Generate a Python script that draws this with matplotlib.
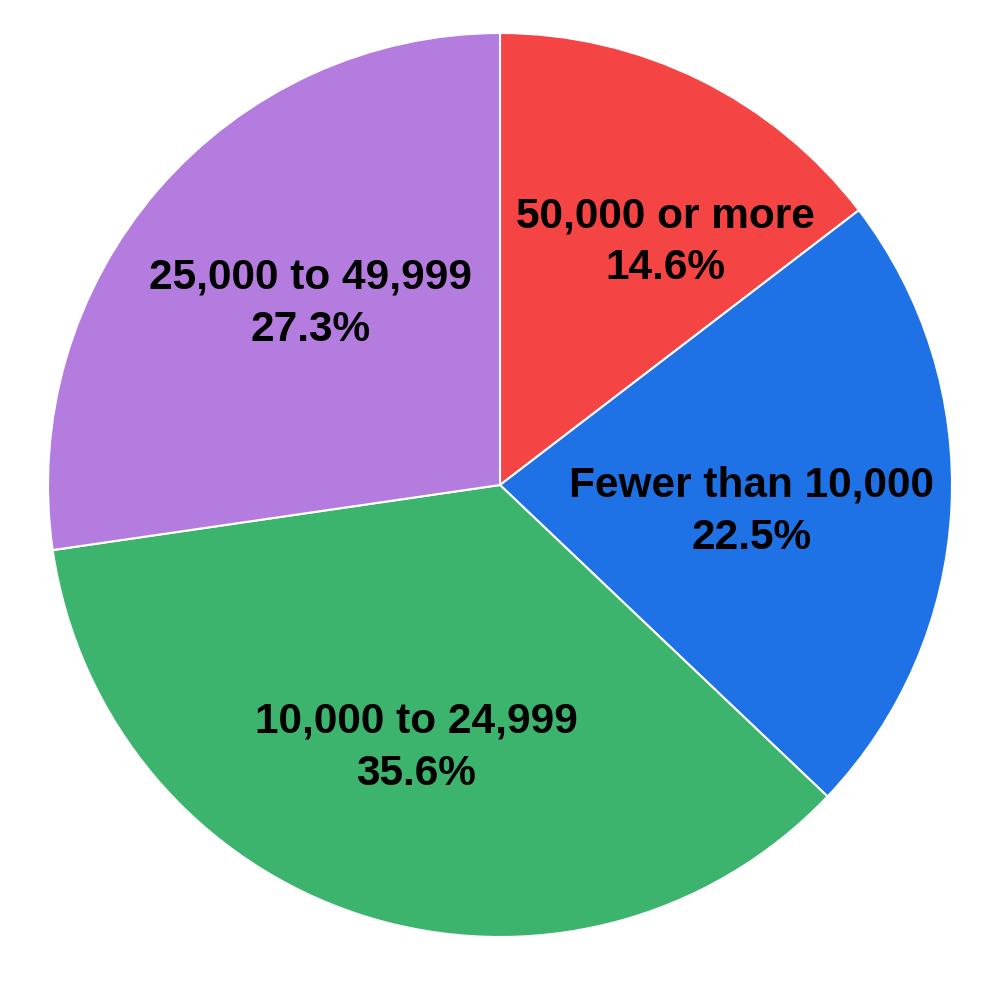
import numpy as np
import matplotlib.pyplot as plt

categories = ['50,000 or more', 'Fewer than 10,000', '10,000 to 24,999', '25,000 to 49,999']
shares = [14.6, 22.5, 35.6, 27.3]
colours = ['#F44444', '#1F72E6', '#3DB46E', '#B47CDF']

# label placement: radius fraction and angle nudge (deg) per wedge
label_r = [0.65, 0.56, 0.61, 0.58]
label_nudge = [-8, -3, 0, -3]

fig = plt.figure(figsize=(10, 9.83), dpi=100)
ax = fig.add_axes([0, 0, 1, 1])

cx, cy, R = 500, 498, 452
wedges, _ = ax.pie(shares, colors=colours, startangle=90, counterclock=False,
                   center=(cx, cy), radius=R, frame=True,
                   wedgeprops=dict(edgecolor='white', linewidth=1.5))
ax.set_xlim(0, 1000)
ax.set_ylim(0, 983)
ax.set_aspect('equal')
ax.axis('off')

for w, cat, val, r, nd in zip(wedges, categories, shares, label_r, label_nudge):
    mid = np.deg2rad((w.theta1 + w.theta2) / 2 + nd)
    x = cx + R * r * np.cos(mid)
    y = cy + R * r * np.sin(mid)
    ax.text(x, y, f'{cat}\n{val}%', ha='center', va='center', fontsize=30.5,
            fontweight='bold', family='Liberation Sans', linespacing=1.4)

fig.savefig('out.png', dpi=100)
